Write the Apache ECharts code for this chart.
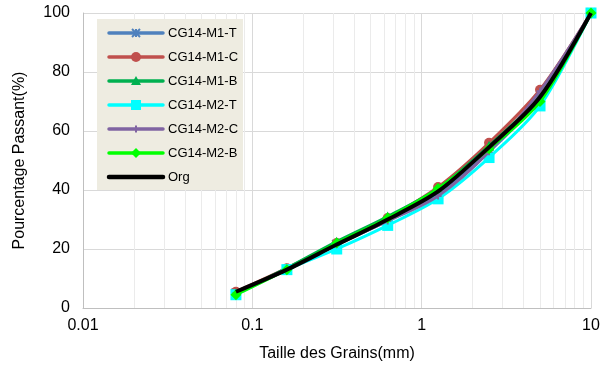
<!DOCTYPE html>
<html>
<head>
<meta charset="utf-8">
<script src="https://cdn.jsdelivr.net/npm/echarts@6/dist/echarts.min.js"></script>
<style>
  html, body { margin: 0; padding: 0; background: #fff; }
  #chart { width: 603px; height: 369px; }
</style>
</head>
<body>
<div id="chart"></div>
<script>
// Sieve sizes (mm) and percentage passing for each sample
const sieveSizes = [0.08, 0.16, 0.315, 0.63, 1.25, 2.5, 5, 10];
const cg14M1T = [5, 13, 21.5, 29.5, 38.5, 53, 71, 100];
const cg14M1C = [5.5, 13.5, 22, 30.5, 41, 56, 74, 100];
const cg14M1B = [5, 13.5, 22.5, 31, 40.5, 55, 72, 100];
const cg14M2T = [4.5, 13, 20, 28, 37, 51, 68.5, 100];
const cg14M2C = [5, 13, 21.5, 29.5, 38, 53, 73.5, 100];
const cg14M2B = [4.5, 13, 22, 30.5, 40.5, 54, 70, 100];
const org = [5.5, 13, 21.5, 30, 39.5, 54.5, 71.5, 100];

const seriesNames = ['CG14-M1-T', 'CG14-M1-C', 'CG14-M1-B', 'CG14-M2-T', 'CG14-M2-C', 'CG14-M2-B', 'Org'];
const seriesValues = [cg14M1T, cg14M1C, cg14M1B, cg14M2T, cg14M2C, cg14M2B, org];

const FONT = 'Liberation Sans, Arial, sans-serif';

const styles = [
  { color: '#4F81BD', marker: 'star', symbol: 'path://M0,0L10,10M10,0L0,10M5,0L5,10', size: 9, stroke: true, width: 3 },
  { color: '#C0504D', marker: 'circle', symbol: 'circle', size: 10, width: 3 },
  { color: '#00B050', marker: 'triangle', symbol: 'triangle', size: 10, width: 3 },
  { color: '#00FFFF', marker: 'square', symbol: 'rect', size: 11, width: 3 },
  { color: '#8064A2', marker: 'plus', symbol: 'path://M5,0L5,10M0,5L10,5', size: 7, stroke: true, width: 3 },
  { color: '#00FF00', marker: 'diamond', symbol: 'diamond', size: 11, width: 3 },
  { color: '#000000', marker: 'none', symbol: 'none', size: 0, width: 4 }
];

function pairs(vals) {
  return sieveSizes.map((x, i) => [x, vals[i]]);
}

// light minor grid lines at 2..9 of each decade
const minorLines = [];
[0.01, 0.1, 1].forEach(d => {
  for (let k = 2; k <= 9; k++) minorLines.push({ xAxis: +(d * k).toPrecision(3) });
});

const series = [{
  name: '_minor',
  type: 'line',
  data: [],
  z: 0,
  silent: true,
  markLine: {
    z: 0,
    silent: true,
    symbol: 'none',
    animation: false,
    label: { show: false },
    lineStyle: { color: '#EBEBEB', width: 1, type: 'solid' },
    emphasis: { disabled: true },
    data: minorLines
  }
}];

seriesNames.forEach((name, i) => {
  const s = styles[i];
  series.push({
    name: name,
    type: 'line',
    data: pairs(seriesValues[i]),
    smooth: 0.3,
    symbol: s.symbol,
    symbolSize: s.size,
    showSymbol: s.symbol !== 'none',
    z: 10 + i,
    lineStyle: { color: s.color, width: s.width },
    itemStyle: s.stroke
      ? { color: s.color, borderColor: s.color, borderWidth: 2 }
      : { color: s.color, borderWidth: 0 },
    animation: false
  });
});

// ---- legend box drawn as graphic elements ----
const LEG = { x: 97, y: 19, w: 146, h: 171, first: 33, step: 24, lineX0: 109, lineX1: 163, textX: 168 };
const LZ = 100;

function markerEls(kind, cx, cy, color) {
  const fill = { fill: color };
  const strk = { stroke: color, lineWidth: 2 };
  switch (kind) {
    case 'star': return [
      { type: 'line', shape: { x1: cx - 4, y1: cy - 4, x2: cx + 4, y2: cy + 4 }, style: strk },
      { type: 'line', shape: { x1: cx + 4, y1: cy - 4, x2: cx - 4, y2: cy + 4 }, style: strk },
      { type: 'line', shape: { x1: cx, y1: cy - 4, x2: cx, y2: cy + 4 }, style: strk }
    ];
    case 'circle': return [{ type: 'circle', shape: { cx, cy, r: 5 }, style: fill }];
    case 'triangle': return [{ type: 'polygon', shape: { points: [[cx, cy - 5], [cx + 5, cy + 4], [cx - 5, cy + 4]] }, style: fill }];
    case 'square': return [{ type: 'rect', shape: { x: cx - 5, y: cy - 5, width: 10, height: 10 }, style: fill }];
    case 'plus': return [
      { type: 'line', shape: { x1: cx, y1: cy - 3.5, x2: cx, y2: cy + 3.5 }, style: strk },
      { type: 'line', shape: { x1: cx - 3.5, y1: cy, x2: cx + 3.5, y2: cy }, style: strk }
    ];
    case 'diamond': return [{ type: 'polygon', shape: { points: [[cx, cy - 5], [cx + 5, cy], [cx, cy + 5], [cx - 5, cy]] }, style: fill }];
    default: return [];
  }
}

const legendEls = [{
  type: 'rect',
  z: LZ,
  shape: { x: LEG.x, y: LEG.y, width: LEG.w, height: LEG.h },
  style: { fill: '#EEECE1' }
}];
seriesNames.forEach((name, i) => {
  const cy = LEG.first + LEG.step * i;
  const c = styles[i].color;
  legendEls.push({
    type: 'line',
    z: LZ + 1,
    shape: { x1: LEG.lineX0, y1: cy, x2: LEG.lineX1, y2: cy },
    style: { stroke: c, lineWidth: styles[i].width + 0.5, lineCap: 'round' }
  });
  markerEls(styles[i].marker, (LEG.lineX0 + LEG.lineX1) / 2, cy, c).forEach(e => {
    e.z = LZ + 2;
    legendEls.push(e);
  });
  legendEls.push({
    type: 'text',
    z: LZ + 2,
    x: LEG.textX,
    y: cy,
    style: { text: name, fontFamily: FONT, fontSize: 13, fill: '#000', verticalAlign: 'middle', align: 'left' }
  });
});

const chart = echarts.init(document.getElementById('chart'), null, { renderer: 'canvas' });
chart.setOption({
  backgroundColor: '#ffffff',
  animation: false,
  grid: { left: 83, right: 12, top: 13, bottom: 61, containLabel: false },
  graphic: legendEls.map(e => Object.assign({ silent: true }, e)),
  xAxis: {
    type: 'log',
    logBase: 10,
    min: 0.01,
    max: 10,
    name: 'Taille des Grains(mm)',
    nameLocation: 'middle',
    nameGap: 38,
    nameTextStyle: { fontFamily: FONT, fontSize: 16, color: '#000' },
    axisLine: { show: true, lineStyle: { color: '#BFBFBF', width: 1 } },
    axisTick: { show: false },
    axisLabel: {
      fontFamily: FONT, fontSize: 16, color: '#000', margin: 10,
      formatter: v => String(+v.toPrecision(3))
    },
    splitLine: { show: true, lineStyle: { color: '#D9D9D9', width: 1 } }
  },
  yAxis: {
    type: 'value',
    min: 0,
    max: 100,
    interval: 20,
    name: 'Pourcentage Passant(%)',
    nameLocation: 'middle',
    nameGap: 55,
    nameTextStyle: { fontFamily: FONT, fontSize: 16, color: '#000' },
    axisLine: { show: true, lineStyle: { color: '#BFBFBF', width: 1 } },
    axisTick: { show: false },
    axisLabel: { fontFamily: FONT, fontSize: 16, color: '#000', margin: 13 },
    splitLine: { show: true, lineStyle: { color: '#D9D9D9', width: 1 } }
  },
  series: series
});
</script>
</body>
</html>
